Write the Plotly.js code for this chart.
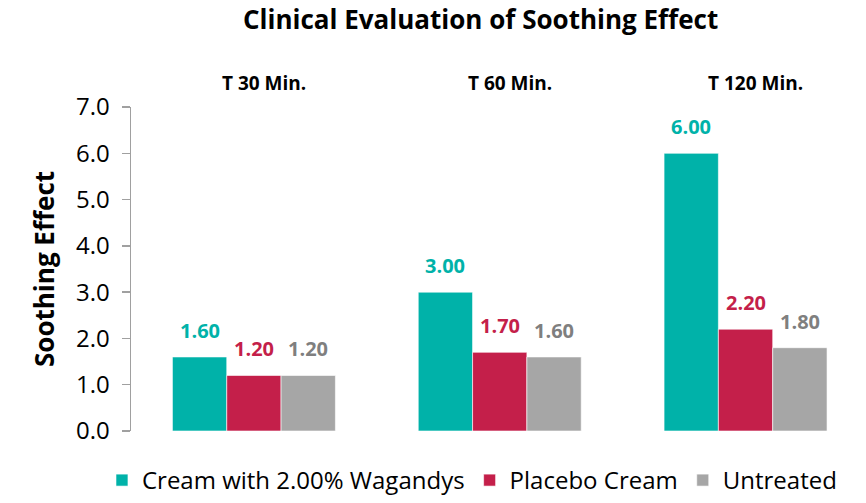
<!DOCTYPE html>
<html>
<head>
<meta charset="utf-8">
<script src="https://cdn.plot.ly/plotly-3.0.1.min.js"></script>
<style>html,body{margin:0;padding:0;background:#fff;}#chart{width:866px;height:503px;}</style>
</head>
<body>
<div id="chart"></div>
<script>
const categories = ["T 30 Min.", "T 60 Min.", "T 120 Min."];
const seriesNames = ["Cream with 2.00% Wagandys", "Placebo Cream", "Untreated"];
const creamValues = [1.60, 3.00, 6.00];
const placeboValues = [1.20, 1.70, 2.20];
const untreatedValues = [1.20, 1.60, 1.80];
const yTickVals = [0, 1, 2, 3, 4, 5, 6, 7];
const yTickText = ["0.0", "1.0", "2.0", "3.0", "4.0", "5.0", "6.0", "7.0"];

const barColors = ["#00B2A9", "#C41F4A", "#A6A6A6"];
const labelColors = ["#00B2A9", "#C41F4A", "#7F7F7F"];
const FONT = "'Open Sans', sans-serif";

const allValues = [creamValues, placeboValues, untreatedValues];
const xIdx = categories.map((c, i) => i);

const bargap = 0.337;
const barW = (1 - bargap) / 3;

const traces = allValues.map((vals, s) => ({
  type: "bar",
  name: seriesNames[s],
  x: xIdx,
  y: vals,
  marker: {color: barColors[s], line: {color: "rgba(255,255,255,0.6)", width: 1}},
  hoverinfo: "y"
}));

const annotations = [];
allValues.forEach((vals, s) => {
  vals.forEach((v, i) => {
    annotations.push({
      x: i + (s - 1) * barW, y: v, xref: "x", yref: "y",
      text: "<b>" + v.toFixed(2) + "</b>", showarrow: false,
      yanchor: "bottom", yshift: 11,
      font: {family: FONT, size: 20, color: labelColors[s]}
    });
  });
});
categories.forEach((c, i) => {
  annotations.push({
    x: i, y: 1, xref: "x", yref: "paper", yanchor: "bottom", yshift: 9, xshift: 10,
    text: "<b>" + c + "</b>", showarrow: false,
    font: {family: FONT, size: 19, color: "#000"}
  });
});

const layout = {
  width: 866, height: 503,
  margin: {l: 131, r: 0, t: 107, b: 72},
  paper_bgcolor: "#fff", plot_bgcolor: "#fff",
  title: {text: "<b>Clinical Evaluation of Soothing Effect</b>", x: 0.555, xanchor: "center", y: 0.96, yanchor: "middle",
          font: {family: FONT, size: 26, color: "#000"}},
  barmode: "group", bargap: bargap, bargroupgap: 0,
  xaxis: {range: [-0.5, 2.49], showticklabels: false, showgrid: false, zeroline: false, showline: false, ticks: "", fixedrange: true},
  yaxis: {range: [0, 7], tickvals: yTickVals, ticktext: yTickText, showgrid: false, zeroline: false,
          showline: true, linecolor: "#A0A0A0", linewidth: 1.5, ticks: "outside", ticklen: 8, tickcolor: "#A0A0A0", tickwidth: 1.5,
          ticklabelstandoff: 7,
          tickfont: {family: FONT, size: 24, color: "#000"},
          title: {text: "<b>Soothing Effect</b>", standoff: 14, font: {family: FONT, size: 26, color: "#000"}}},
  showlegend: true,
  legend: {orientation: "h", xref: "container", yref: "container", x: 0.545, xanchor: "center", y: -0.03, yanchor: "bottom",
           font: {family: FONT, size: 24, color: "#000"}, itemwidth: 15, traceorder: "normal"},
  annotations: annotations
};

Plotly.newPlot("chart", traces, layout, {displayModeBar: false, staticPlot: true});
</script>
</body>
</html>
